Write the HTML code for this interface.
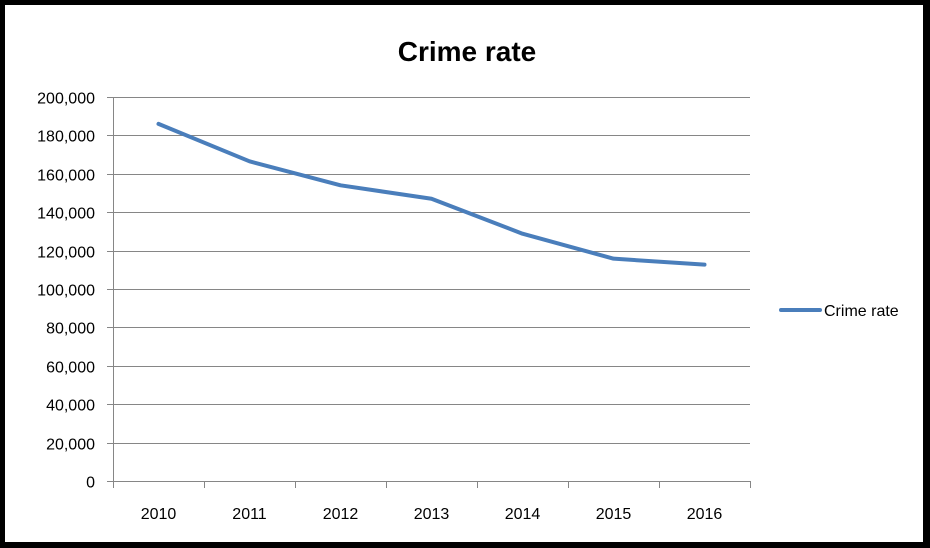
<!DOCTYPE html>
<html><head><meta charset="utf-8"><style>
html,body{margin:0;padding:0;background:#000;}
svg{display:block;font-family:"Liberation Sans",sans-serif;}
</style></head><body>
<svg width="930" height="548" viewBox="0 0 930 548">
<rect x="5" y="5" width="918" height="537" fill="#fff"/>
<text x="467" y="61" text-anchor="middle" font-size="28" font-weight="bold" fill="#000">Crime rate</text>
<g id="grid"></g>
<g id="axes"></g>
<path id="line" fill="none" stroke="#4a7ebb" stroke-width="4" stroke-linejoin="round" stroke-linecap="round"/>
<line x1="781" y1="310" x2="820" y2="310" stroke="#4a7ebb" stroke-width="4" stroke-linecap="round"/>
<text x="824" y="316" font-size="16" fill="#000">Crime rate</text>
</svg>
<script>
const categories=["2010","2011","2012","2013","2014","2015","2016"];
const values=[186000,166500,154000,147000,128800,115800,112700];
const yTicks=[0,20000,40000,60000,80000,100000,120000,140000,160000,180000,200000];
const yTickLabels=["0","20,000","40,000","60,000","80,000","100,000","120,000","140,000","160,000","180,000","200,000"];
const NS="http://www.w3.org/2000/svg";
const L=113,R=750,T=97,B=481,yMax=200000;
const y=v=>B-(v/yMax)*(B-T);
const band=(R-L)/categories.length;
const x=i=>L+band*(i+0.5);
function mk(tag,attrs,parent){const e=document.createElementNS(NS,tag);for(const k in attrs)e.setAttribute(k,attrs[k]);parent.appendChild(e);return e;}
const grid=document.getElementById('grid'),axes=document.getElementById('axes');
yTicks.forEach((t,i)=>{
 const yy=Math.round(y(t))+0.5;
 const g=mk('line',{x1:L-6,x2:R,y1:yy,y2:yy,stroke:'#868686','stroke-width':1},grid);
 
 
 const tx=mk('text',{x:95,y:yy+6,'text-anchor':'end','font-size':16,fill:'#000'},axes);
 tx.textContent=yTickLabels[i];
 
 
});
const ya=mk('line',{x1:L+0.5,x2:L+0.5,y1:T,y2:B,stroke:'#868686'},axes);


for(let i=0;i<=categories.length;i++){
 const xx=Math.round(L+band*i)+0.5;
 const tk=mk('line',{x1:xx,x2:xx,y1:B,y2:B+7,stroke:'#868686'},axes);
 
 
}
categories.forEach((c,i)=>{
 const tx=mk('text',{x:x(i),y:519,'text-anchor':'middle','font-size':16,fill:'#000'},axes);
 tx.textContent=c;
 
 
});
document.getElementById('line').setAttribute('d',values.map((v,i)=>(i?'L':'M')+x(i)+','+y(v)).join(' '));
</script>
</body></html>
